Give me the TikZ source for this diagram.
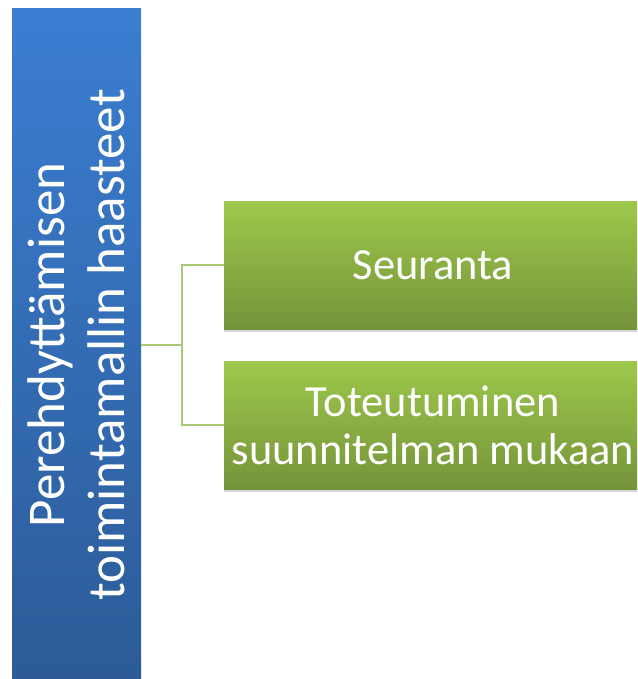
\documentclass[tikz,border=0pt]{standalone}
\usepackage{fontspec}
\setmainfont{Carlito}
\usetikzlibrary{shadows}
\definecolor{bluetop}{HTML}{3B7ED2}
\definecolor{bluebot}{HTML}{2C5B97}
\definecolor{greentop}{HTML}{9DC84B}
\definecolor{greenbot}{HTML}{75943A}
\definecolor{linkgreen}{HTML}{A8C97A}
\tikzset{
  bluebox/.style={rectangle, draw=none, top color=bluetop, bottom color=bluebot,
    minimum width=129pt, minimum height=672pt, inner sep=0pt,
    drop shadow={shadow xshift=0pt, shadow yshift=-3pt, opacity=0.25}},
  greenbox/.style={rectangle, draw=none, top color=greentop, bottom color=greenbot,
    minimum width=418pt, minimum height=128pt, inner sep=0pt,
    text=white, align=center, font=\fontsize{44.5}{48}\selectfont,
    drop shadow={shadow xshift=0pt, shadow yshift=-3pt, opacity=0.3}},
  bluetext/.style={text=white, align=center, rotate=90, inner sep=0pt,
    font=\fontsize{53}{60}\selectfont},
  link/.style={draw=linkgreen, line width=2pt}
}
\begin{document}
\begin{tikzpicture}[x=1pt,y=-1pt]
\useasboundingbox (0,0) rectangle (637,679);
\clip (0,0) rectangle (637,679);
\fill[white] (0,0) rectangle (637,679);
\node[bluebox] (b) at (76.5,345) {};
\node[bluetext] (bt) at (b.center) {Perehdyttämisen\\toimintamallin haasteet};
\node[greenbox] (g1) at (433,265) {Seuranta};
\node[greenbox] (g2) at (433,425) {Toteutuminen\\suunnitelman mukaan};
\coordinate (j) at (182,345);
\draw[link] (b.east) -- (j);
\draw[link] (j) |- (g1.west);
\draw[link] (j) |- (g2.west);
\end{tikzpicture}
\end{document}
